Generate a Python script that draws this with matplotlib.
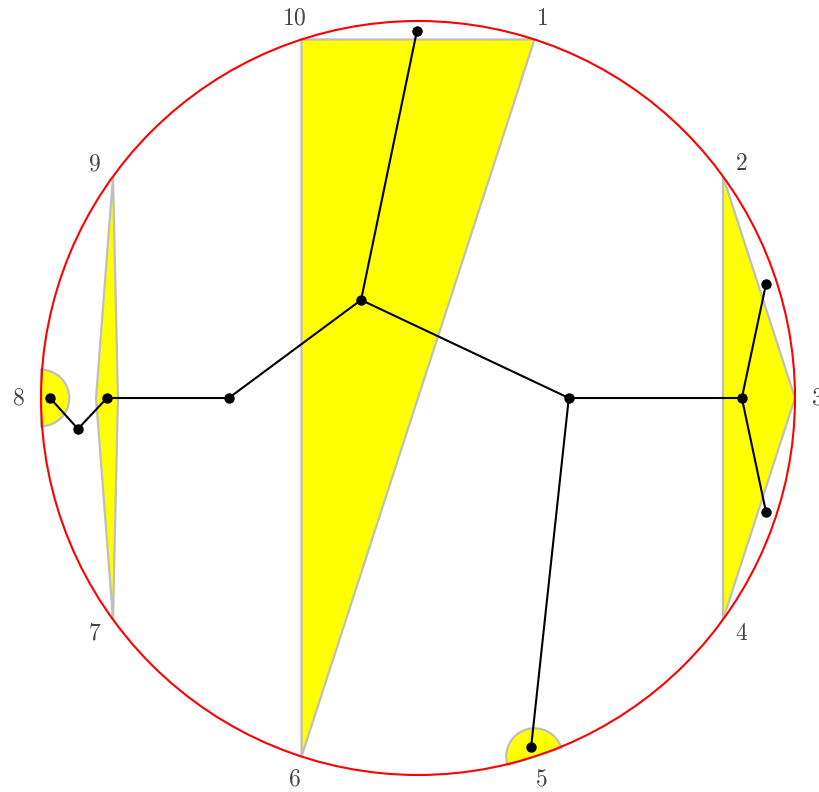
import numpy as np
import matplotlib
matplotlib.use('Agg')
import matplotlib.pyplot as plt
from matplotlib.patches import Polygon, Wedge, Circle

plt.rcParams['mathtext.fontset'] = 'cm'

# boundary points 1..10, angle of point k = 108 - 36k degrees
labels = [str(k) for k in range(1, 11)]
angles = [108 - 36 * k for k in range(1, 11)]

# yellow triangles, as indices of boundary points (1-based)
triangles = [[10, 1, 6], [2, 3, 4]]
# thin lens between 9 and 7: extra x positions at y=0
lens_x = [-0.854, -0.796]
# half discs at boundary points
half_discs = [8, 5]
half_r = 0.075

# tree nodes and edges
nodes = {
    'A': (-0.003, 0.973), 'B': (-0.151, 0.260), 'C': (-0.502, 0.0),
    'D': (-0.825, 0.0), 'E': (-0.902, -0.082), 'F': (-0.976, 0.0),
    'G': (0.400, 0.0), 'H': (0.859, 0.0), 'I': (0.923, 0.302),
    'J': (0.923, -0.302), 'K': (0.300, -0.926),
}
edges = [('A', 'B'), ('B', 'C'), ('C', 'D'), ('D', 'E'), ('E', 'F'),
         ('B', 'G'), ('G', 'H'), ('H', 'I'), ('H', 'J'), ('G', 'K')]

pts = {k + 1: (np.cos(np.radians(a)), np.sin(np.radians(a))) for k, a in enumerate(angles)}

fig = plt.figure(figsize=(8.2, 7.92), dpi=100)
ax = fig.add_axes([0, 0, 1, 1])
ax.set_xlim(-1.1088, 1.0663)
ax.set_ylim(-1.0451, 1.0557)
ax.set_aspect('equal')
ax.axis('off')

fc, ec = '#ffff00', '#bfbfbf'
for tri in triangles:
    ax.add_patch(Polygon([pts[i] for i in tri], closed=True, fc=fc, ec=ec, lw=1.6, zorder=1))
lens = [pts[9], (lens_x[0], 0), pts[7], (lens_x[1], 0)]
ax.add_patch(Polygon(lens, closed=True, fc=fc, ec=ec, lw=1.6, zorder=1))
for i in half_discs:
    inward = (angles[i - 1] + 180) % 360
    ax.add_patch(Wedge(pts[i], half_r, inward - 90, inward + 90, fc=fc, ec=ec, lw=1.6, zorder=1))

ax.add_patch(Circle((0, 0), 1, fill=False, ec='red', lw=1.5, zorder=2))

for a, b in edges:
    ax.plot([nodes[a][0], nodes[b][0]], [nodes[a][1], nodes[b][1]], color='black', lw=1.5, zorder=3)
nx = [v[0] for v in nodes.values()]
ny = [v[1] for v in nodes.values()]
ax.plot(nx, ny, 'o', color='black', ms=6.5, zorder=4)

for lab, a in zip(labels, angles):
    r = 1.06
    ax.text(r * np.cos(np.radians(a)), r * np.sin(np.radians(a)), '$' + lab + '$',
            ha='center', va='center', fontsize=17, color='#444444')

fig.savefig('out.png', dpi=100)
